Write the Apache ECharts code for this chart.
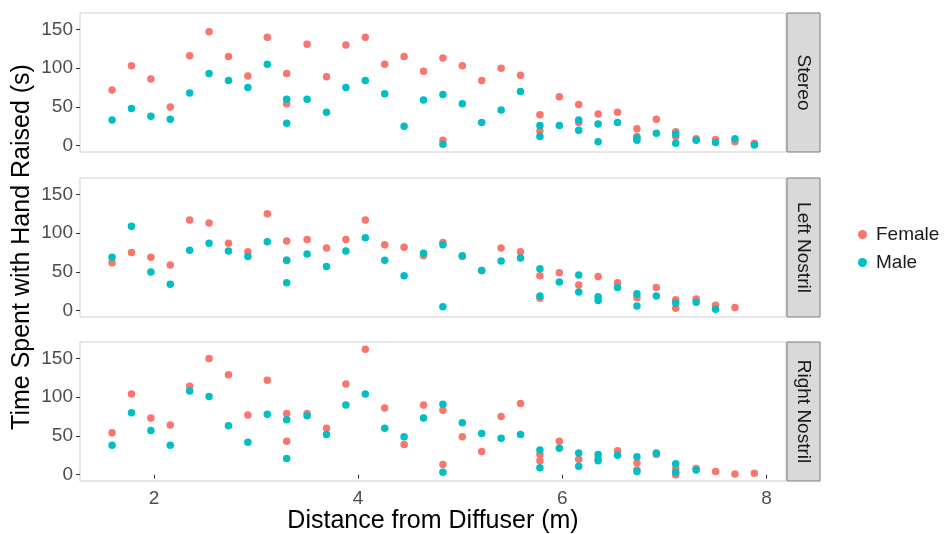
<!DOCTYPE html>
<html>
<head>
<meta charset="utf-8">
<script src="https://cdn.jsdelivr.net/npm/echarts@6/dist/echarts.min.js"></script>
<style>
  html, body { margin: 0; padding: 0; background: #ffffff; }
  #chart { width: 944px; height: 534px; }
</style>
</head>
<body>
<div id="chart"></div>
<script>
// Facet names (one panel each, top to bottom)
const facets = ['Stereo', 'Left Nostril', 'Right Nostril'];
const groups = ['Female', 'Male'];
const groupColors = ['#F8766D', '#00BFC4'];

// Tick labels
const xTicks = [2, 4, 6, 8];
const yTicks = [0, 50, 100, 150];

// [distance (m), time with hand raised (s)]
const stereoFemale = [[1.59,72],[1.78,103],[1.97,86],[2.16,50],[2.35,116],[2.54,147],[2.73,115],[2.92,90],[3.11,140],[3.30,93],[3.30,54],[3.50,131],[3.69,89],[3.88,130],[4.07,140],[4.26,105],[4.45,115],[4.64,96],[4.83,113],[4.83,7],[5.02,103],[5.21,84],[5.40,100],[5.59,91],[5.78,40],[5.78,19],[5.97,63],[6.16,53],[6.16,30],[6.35,41],[6.54,43],[6.73,22],[6.73,12],[6.92,34],[7.11,18],[7.11,12],[7.31,9],[7.50,8],[7.69,5],[7.88,3]];
const stereoMale = [[1.59,33],[1.78,48],[1.97,38],[2.16,34],[2.35,68],[2.54,93],[2.73,84],[2.92,75],[3.11,105],[3.30,60],[3.30,29],[3.50,60],[3.69,43],[3.88,75],[4.07,84],[4.26,67],[4.45,25],[4.64,59],[4.83,66],[4.83,2],[5.02,54],[5.21,30],[5.40,46],[5.59,70],[5.78,26],[5.78,12],[5.97,26],[6.16,33],[6.16,20],[6.35,28],[6.35,5],[6.54,30],[6.73,10],[6.73,7],[6.92,16],[7.11,15],[7.11,3],[7.31,7],[7.50,4],[7.69,9],[7.88,1]];

const leftFemale = [[1.59,62],[1.78,75],[1.97,69],[2.16,59],[2.35,117],[2.54,113],[2.73,87],[2.92,76],[3.11,125],[3.30,90],[3.30,65],[3.50,92],[3.69,81],[3.88,92],[4.07,117],[4.26,85],[4.45,82],[4.64,71],[4.83,88],[5.02,70],[5.21,52],[5.40,81],[5.59,76],[5.78,45],[5.78,16],[5.97,49],[6.16,33],[6.35,44],[6.54,36],[6.73,17],[6.92,30],[7.11,14],[7.11,3],[7.31,15],[7.50,7],[7.69,4]];
const leftMale = [[1.59,69],[1.78,109],[1.97,50],[2.16,34],[2.35,78],[2.54,87],[2.73,77],[2.92,70],[3.11,89],[3.30,65],[3.30,36],[3.50,73],[3.69,57],[3.88,77],[4.07,94],[4.26,65],[4.45,45],[4.64,74],[4.83,85],[4.83,5],[5.02,71],[5.21,52],[5.40,64],[5.59,68],[5.78,54],[5.78,19],[5.97,37],[6.16,46],[6.16,24],[6.35,18],[6.35,13],[6.54,30],[6.73,22],[6.73,6],[6.92,19],[7.11,10],[7.31,11],[7.50,2]];

const rightFemale = [[1.59,54],[1.78,104],[1.97,73],[2.16,64],[2.35,114],[2.54,150],[2.73,129],[2.92,77],[3.11,122],[3.30,79],[3.30,43],[3.50,79],[3.69,60],[3.88,117],[4.07,162],[4.26,86],[4.45,39],[4.64,90],[4.83,83],[4.83,13],[5.02,49],[5.21,30],[5.40,75],[5.59,92],[5.78,26],[5.78,18],[5.97,43],[6.16,20],[6.35,21],[6.54,31],[6.73,15],[6.73,6],[6.92,26],[7.11,0],[7.11,8],[7.31,8],[7.50,4],[7.69,1],[7.88,2]];
const rightMale = [[1.59,38],[1.78,80],[1.97,57],[2.16,38],[2.35,108],[2.54,101],[2.73,63],[2.92,42],[3.11,78],[3.30,71],[3.30,21],[3.50,76],[3.69,52],[3.88,90],[4.07,104],[4.26,60],[4.45,49],[4.64,73],[4.83,91],[4.83,3],[5.02,67],[5.21,53],[5.40,47],[5.59,52],[5.78,32],[5.78,9],[5.97,34],[6.16,28],[6.16,11],[6.35,26],[6.35,18],[6.54,25],[6.73,23],[6.73,4],[6.92,28],[7.11,14],[7.11,3],[7.31,6]];

const facetData = [
  [stereoFemale, stereoMale],
  [leftFemale, leftMale],
  [rightFemale, rightMale]
];

// Panel geometry
const panelLeft = 80;
const panelWidth = 706;
const panelTops = [13, 178, 342];
const panelHeight = 139;
const stripWidth = 33;
const FONT = '"Liberation Sans", Arial, Helvetica, sans-serif';

const grids = [], xAxes = [], yAxes = [], series = [], graphics = [];

facets.forEach((name, i) => {
  const isBottom = i === facets.length - 1;
  grids.push({
    left: panelLeft, top: panelTops[i], width: panelWidth, height: panelHeight,
    show: true, borderColor: '#CFCFCF', borderWidth: 1, backgroundColor: '#ffffff'
  });
  xAxes.push({
    type: 'value', gridIndex: i, min: 1.276, max: 8.19,
    axisLine: { show: false },
    splitLine: { show: false },
    axisTick: { show: isBottom, customValues: xTicks, length: 4, lineStyle: { color: '#333333' } },
    axisLabel: { show: isBottom, customValues: xTicks, margin: 8, color: '#4D4D4D', fontSize: 19, fontFamily: FONT }
  });
  yAxes.push({
    type: 'value', gridIndex: i, min: -8.15, max: 171.2,
    axisLine: { show: false },
    splitLine: { show: false },
    axisTick: { show: true, customValues: yTicks, length: 4, lineStyle: { color: '#333333' } },
    axisLabel: { customValues: yTicks, margin: 7, color: '#4D4D4D', fontSize: 19, fontFamily: FONT }
  });
  groups.forEach((g, j) => {
    series.push({
      type: 'scatter', name: g, xAxisIndex: i, yAxisIndex: i,
      data: facetData[i][j], symbol: 'circle', symbolSize: 7.5,
      itemStyle: { color: groupColors[j], opacity: 1 },
      silent: true, animation: false
    });
  });
  // facet strip
  graphics.push({
    type: 'rect',
    shape: { x: panelLeft + panelWidth + 1, y: panelTops[i], width: stripWidth, height: panelHeight },
    style: { fill: '#D9D9D9', stroke: '#7A7A7A', lineWidth: 1 }
  });
  graphics.push({
    type: 'text',
    x: panelLeft + panelWidth + 1 + stripWidth / 2,
    y: panelTops[i] + panelHeight / 2,
    rotation: -Math.PI / 2,
    style: { text: name, fill: '#1A1A1A', font: '19px ' + FONT, align: 'center', verticalAlign: 'middle' }
  });
});

// axis titles
graphics.push({
  type: 'text', x: 22, y: 247, rotation: Math.PI / 2,
  style: { text: 'Time Spent with Hand Raised (s)', fill: '#000000', font: '25px ' + FONT, align: 'center', verticalAlign: 'middle' }
});
graphics.push({
  type: 'text', x: panelLeft + panelWidth / 2, y: 521,
  style: { text: 'Distance from Diffuser (m)', fill: '#000000', font: '25px ' + FONT, align: 'center', verticalAlign: 'middle' }
});

const chart = echarts.init(document.getElementById('chart'), null, { renderer: 'canvas' });
chart.setOption({
  animation: false,
  backgroundColor: '#ffffff',
  grid: grids,
  xAxis: xAxes,
  yAxis: yAxes,
  series: series,
  legend: {
    data: groups, orient: 'vertical', left: 853, top: 220,
    icon: 'circle', itemWidth: 9, itemHeight: 9, itemGap: 9,
    textStyle: { fontSize: 19, lineHeight: 19, color: '#1A1A1A', fontFamily: FONT, padding: [0, 0, 0, 4] },
    selectedMode: false
  },
  graphic: graphics
});
</script>
</body>
</html>
